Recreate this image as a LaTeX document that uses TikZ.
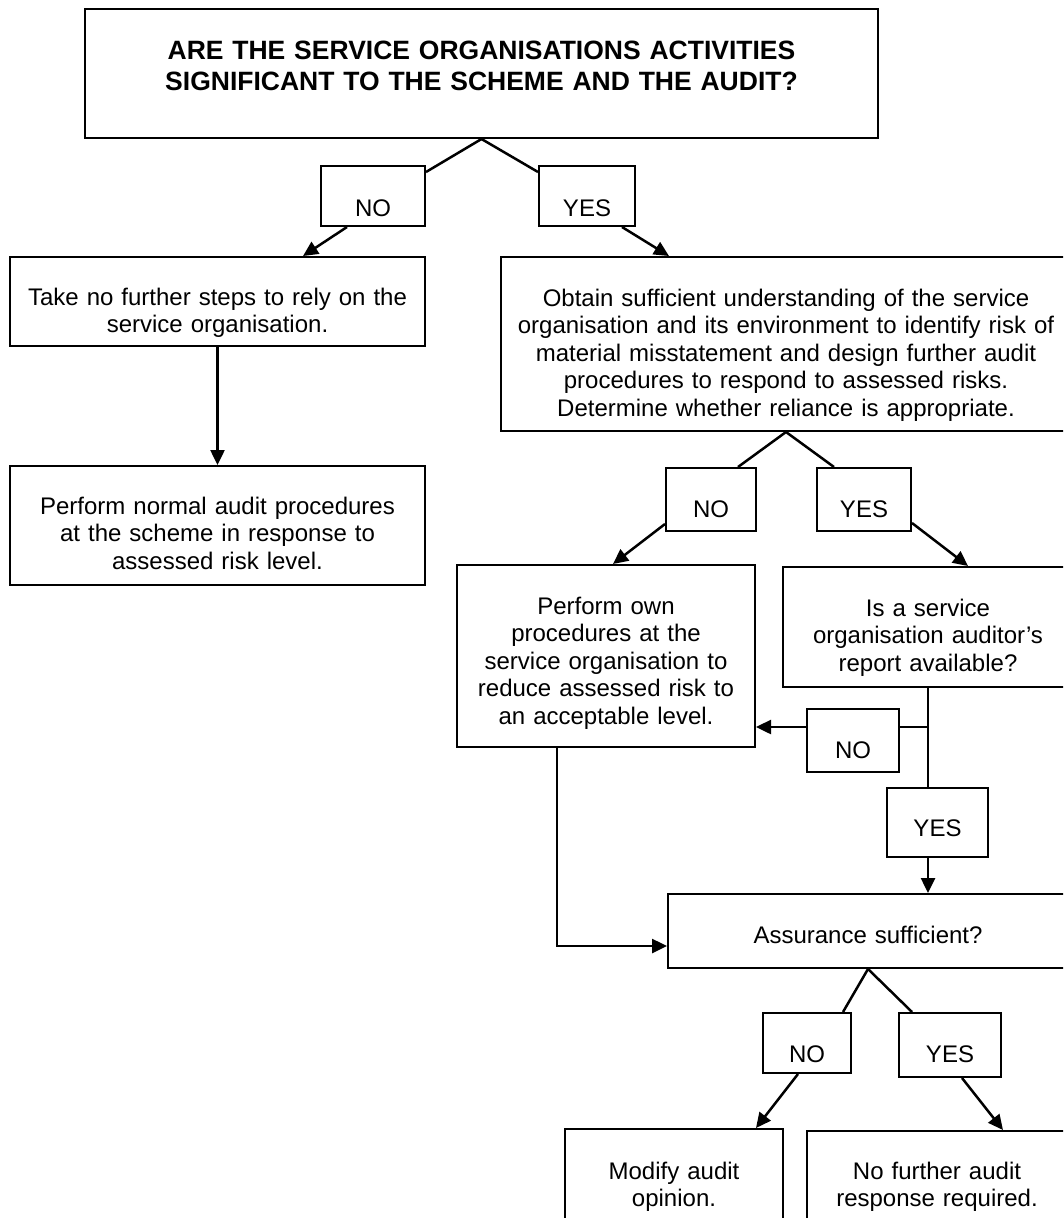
\documentclass[tikz,border=0pt]{standalone}
\usepackage{fontspec}
\setmainfont{Liberation Sans}
\usepackage{tikz}
\usetikzlibrary{arrows.meta}

\tikzset{
	box/.style={draw, line width=2pt, inner sep=0pt, anchor=north west, align=center, font=\fontsize{24}{27.6}\selectfont},
	lin/.style={line width=2.5pt, line join=miter},
	arr/.style={line width=2.5pt, -{Triangle[length=15pt, width=14pt]}}
}

\begin{document}
\begin{tikzpicture}[x=1pt, y=-1pt]
	\useasboundingbox (0,0) rectangle (1063,1218);
	\clip (0,0) rectangle (1063,1218);
	\node[box, text width=793pt, text height=50pt, text depth=79pt, font=\fontsize{26.5}{31}\selectfont\bfseries] at (84,8)(box0){ARE THE SERVICE ORGANISATIONS ACTIVITIES\\SIGNIFICANT TO THE SCHEME AND THE AUDIT?};
	\node[box, text width=415pt, text height=48pt, text depth=41pt] at (9,256)(box1){Take no further steps to rely on the\\service organisation.};
	\node[box, text width=570pt, text height=49pt, text depth=125pt] at (500,256)(box2){Obtain sufficient understanding of the service\\organisation and its environment to identify risk of\\material misstatement and design further audit\\procedures to respond to assessed risks.\\Determine whether reliance is appropriate.};
	\node[box, text width=415pt, text height=48pt, text depth=71pt] at (9,465)(box3){Perform normal audit procedures\\at the scheme in response to\\assessed risk level.};
	\node[box, text width=298pt, text height=49pt, text depth=133pt] at (456,564)(box4){Perform own\\procedures at the\\service organisation to\\reduce assessed risk to\\an acceptable level.};
	\node[box, text width=290pt, text height=49pt, text depth=71pt] at (782,566)(box5){Is a service\\organisation auditor’s\\report available?};
	\node[box, text width=400pt, text height=49pt, text depth=25pt] at (667,893)(box6){Assurance sufficient?};
	\node[box, text width=218pt, text height=50pt, text depth=82pt] at (564,1128)(box7){Modify audit\\opinion.};
	\node[box, text width=260pt, text height=48pt, text depth=82pt] at (806,1130)(box8){No further audit\\response required.};
	\node[box, text width=104pt, text height=50pt, text depth=10pt] at (320,165)(no1){NO};
	\node[box, text width=96pt, text height=50pt, text depth=10pt] at (538,165)(yes1){YES};
	\node[box, text width=90pt, text height=49pt, text depth=14pt] at (665,467)(no2){NO};
	\node[box, text width=94pt, text height=49pt, text depth=14pt] at (816,467)(yes2){YES};
	\node[box, text width=92pt, text height=49pt, text depth=14pt] at (806,708)(no3){NO};
	\node[box, text width=101pt, text height=48pt, text depth=21pt] at (886,787)(yes3){YES};
	\node[box, text width=88pt, text height=49pt, text depth=11pt] at (762,1012)(no4){NO};
	\node[box, text width=102pt, text height=49pt, text depth=15pt] at (898,1012)(yes4){YES};
	\coordinate (j1) at (927,727);
	\draw[lin](box0.south) -- ([yshift=-7pt]no1.north east);
	\draw[lin](box0.south) -- ([yshift=-7pt]yes1.north west);
	\draw[arr]([xshift=-26pt]no1.south) -- ([xshift=85.5pt]box1.north);
	\draw[arr]([xshift=35pt]yes1.south) -- ([xshift=-117pt]box2.north);
	\draw[arr](box1) -- (box3);
	\draw[lin](box2.south) -- ([xshift=27pt]no2.north);
	\draw[lin](box2.south) -- ([xshift=-30pt]yes2.north);
	\draw[arr]([yshift=8pt]no2.south west) -- ([xshift=7pt]box4.north);
	\draw[arr]([yshift=9pt]yes2.south east) -- ([xshift=40pt]box5.north);
	\draw[lin](box5.south) -- (yes3.north -| box5.south);
	\draw[lin](j1) -- (no3.east |- j1);
	\draw[arr](no3.west |- j1) -- (box4.east |- j1);
	\draw[arr](yes3.south -| box5.south) -- (box6.north -| box5.south);
	\draw[arr]([xshift=-49pt]box4.south) |- ([yshift=-15pt]box6.west);
	\draw[lin](box6.south) -- ([xshift=36pt]no4.north);
	\draw[lin](box6.south) -- ([xshift=-38pt]yes4.north);
	\draw[arr]([xshift=-9pt]no4.south) -- ([xshift=82pt]box7.north);
	\draw[arr]([xshift=12pt]yes4.south) -- ([xshift=66pt]box8.north);
\end{tikzpicture}
\end{document}
